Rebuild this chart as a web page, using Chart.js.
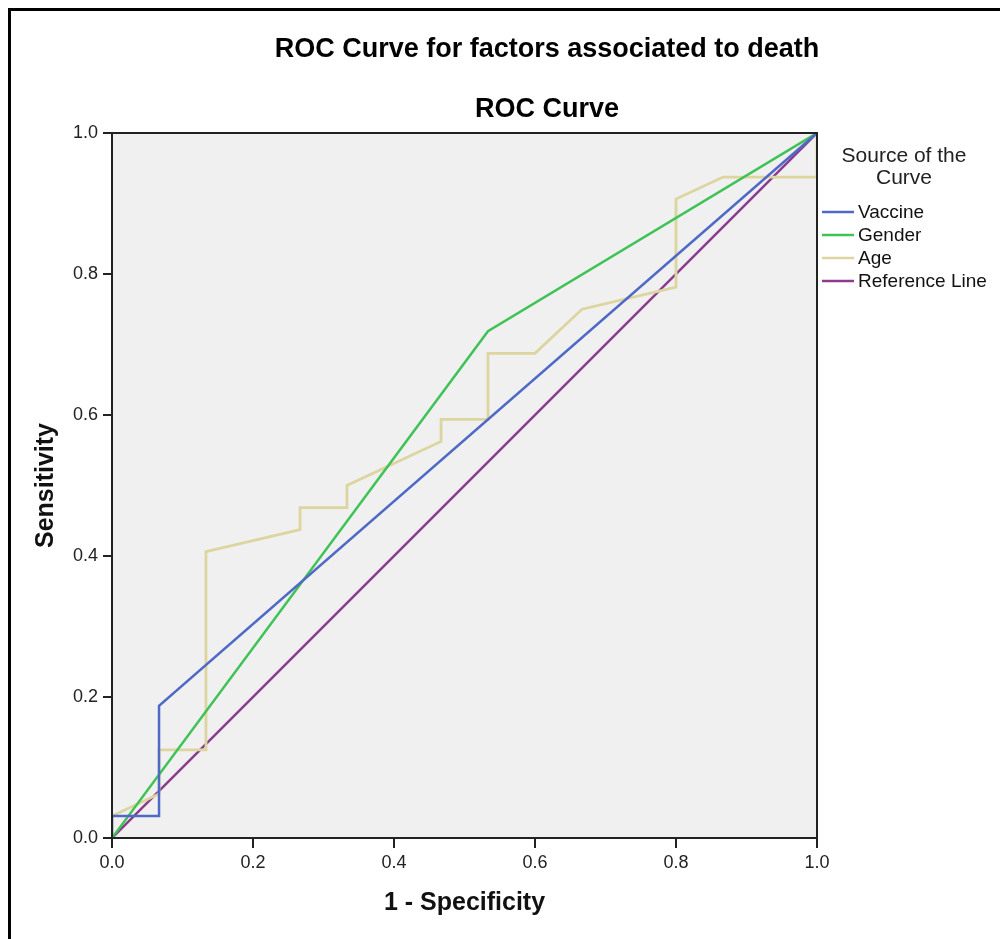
<!DOCTYPE html>
<html>
<head>
<meta charset="utf-8">
<script src="https://cdn.jsdelivr.net/npm/chart.js@4.4.1/dist/chart.umd.min.js"></script>
<style>
  html, body { margin: 0; padding: 0; background: #fff; }
  #wrap { position: relative; width: 1000px; height: 939px; }
  #frame { position: absolute; left: 8px; top: 8px; width: 1000px; height: 1000px;
           border-left: 3px solid #000; border-top: 3px solid #000; box-sizing: border-box; pointer-events: none; }
  canvas { position: absolute; left: 0; top: 0; }
</style>
</head>
<body>
<div id="wrap">
  <canvas id="rocGraph" width="1000" height="939"></canvas>
  <div id="frame"></div>
</div>
<script>
// ROC points (x = 1 - specificity, y = sensitivity)
let vaccineX = [0, 0, 0.0667, 0.0667, 1];
let vaccineY = [0, 0.03125, 0.03125, 0.1875, 1];

let genderX = [0, 0.5333, 1];
let genderY = [0, 0.71875, 1];

let ageX = [0, 0, 0.0667, 0.0667, 0.1333, 0.1333, 0.2667, 0.2667, 0.3333, 0.3333, 0.4667, 0.4667, 0.5333, 0.5333, 0.6, 0.6667, 0.8, 0.8, 0.8667, 1, 1];
let ageY = [0, 0.03125, 0.0625, 0.125, 0.125, 0.40625, 0.4375, 0.46875, 0.46875, 0.5, 0.5625, 0.59375, 0.59375, 0.6875, 0.6875, 0.75, 0.78125, 0.90625, 0.9375, 0.9375, 1];

let refX = [0, 1];
let refY = [0, 1];

let tickValues = [0, 0.2, 0.4, 0.6, 0.8, 1.0];

function toPoints(xs, ys) {
    return xs.map(function(x, i){ return {x: x, y: ys[i]}; });
}

const FONT = "'Liberation Sans', Arial, sans-serif";

// plot background, frame, titles and legend
const sourcePanel = {
    id: 'sourcePanel',
    beforeDatasetsDraw(chart) {
        const {ctx, chartArea: a} = chart;
        ctx.save();
        ctx.fillStyle = '#f0f0f0';
        ctx.fillRect(a.left, a.top, a.right - a.left, a.bottom - a.top);
        ctx.restore();
    },
    afterDraw(chart) {
        const {ctx, chartArea: a} = chart;
        ctx.save();
        ctx.strokeStyle = '#222';
        ctx.lineWidth = 2;
        ctx.strokeRect(a.left, a.top, a.right - a.left, a.bottom - a.top);

        ctx.fillStyle = '#000';
        ctx.textAlign = 'center';
        ctx.textBaseline = 'middle';
        ctx.font = 'bold 27px ' + FONT;
        ctx.fillText('ROC Curve for factors associated to death', 547, 50);
        ctx.fillText('ROC Curve', 547, 110);

        ctx.fillStyle = '#222';
        ctx.font = '21px ' + FONT;
        ctx.fillText('Source of the', 904, 156);
        ctx.fillText('Curve', 904, 178);

        ctx.font = '19px ' + FONT;
        ctx.textAlign = 'left';
        chart.data.datasets.forEach(function(ds, i){
            let y = 212 + i * 23;
            ctx.strokeStyle = ds.borderColor;
            ctx.lineWidth = 2.5;
            ctx.beginPath();
            ctx.moveTo(822, y);
            ctx.lineTo(854, y);
            ctx.stroke();
            ctx.fillStyle = '#111';
            ctx.fillText(ds.label, 858, y + 1);
        });
        ctx.restore();
    }
};

let rocChart = document.getElementById('rocGraph');

new Chart(rocChart, {
    type: 'scatter',
    data: {
        datasets: [{
            label: 'Vaccine',
            data: toPoints(vaccineX, vaccineY),
            borderColor: '#4f69c6',
            borderWidth: 2.5
        }, {
            label: 'Gender',
            data: toPoints(genderX, genderY),
            borderColor: '#3fc256',
            borderWidth: 2.5
        }, {
            label: 'Age',
            data: toPoints(ageX, ageY),
            borderColor: '#dcd59f',
            borderWidth: 2.8
        }, {
            label: 'Reference Line',
            data: toPoints(refX, refY),
            borderColor: '#8c3b8e',
            borderWidth: 2.5
        }]
    },
    options: {
        responsive: false,
        animation: false,
        showLine: true,
        elements: {
            point: { radius: 0, hoverRadius: 0 },
            line: { tension: 0, fill: false }
        },
        layout: {
            padding: { top: 133, right: 183, left: 0, bottom: 0 }
        },
        scales: {
            x: {
                type: 'linear',
                min: 0,
                max: 1,
                afterFit: function(scale){ scale.height = 101; },
                afterBuildTicks: function(scale){ scale.ticks = tickValues.map(function(v){ return {value: v}; }); },
                ticks: {
                    color: '#222',
                    padding: 4,
                    font: { family: FONT, size: 18 },
                    callback: function(v){ return v.toFixed(1); }
                },
                grid: { drawOnChartArea: false, drawTicks: true, tickLength: 10, color: '#222', lineWidth: 2 },
                border: { display: true, color: '#222', width: 2 },
                title: {
                    display: true,
                    text: '1 - Specificity',
                    color: '#111',
                    font: { family: FONT, size: 25, weight: 'bold' },
                    padding: { top: 0, bottom: 21 }
                }
            },
            y: {
                type: 'linear',
                min: 0,
                max: 1,
                afterFit: function(scale){ scale.width = 112; },
                afterBuildTicks: function(scale){ scale.ticks = tickValues.map(function(v){ return {value: v}; }); },
                ticks: {
                    color: '#222',
                    padding: 5,
                    font: { family: FONT, size: 18 },
                    callback: function(v){ return v.toFixed(1); }
                },
                grid: { drawOnChartArea: false, drawTicks: true, tickLength: 9, color: '#222', lineWidth: 2 },
                border: { display: true, color: '#222', width: 2 },
                title: {
                    display: true,
                    text: 'Sensitivity',
                    color: '#111',
                    font: { family: FONT, size: 25, weight: 'bold' },
                    padding: { top: 31, bottom: 0 }
                }
            }
        },
        plugins: {
            legend: { display: false },
            tooltip: { enabled: false }
        }
    },
    plugins: [sourcePanel]
});
</script>
</body>
</html>
